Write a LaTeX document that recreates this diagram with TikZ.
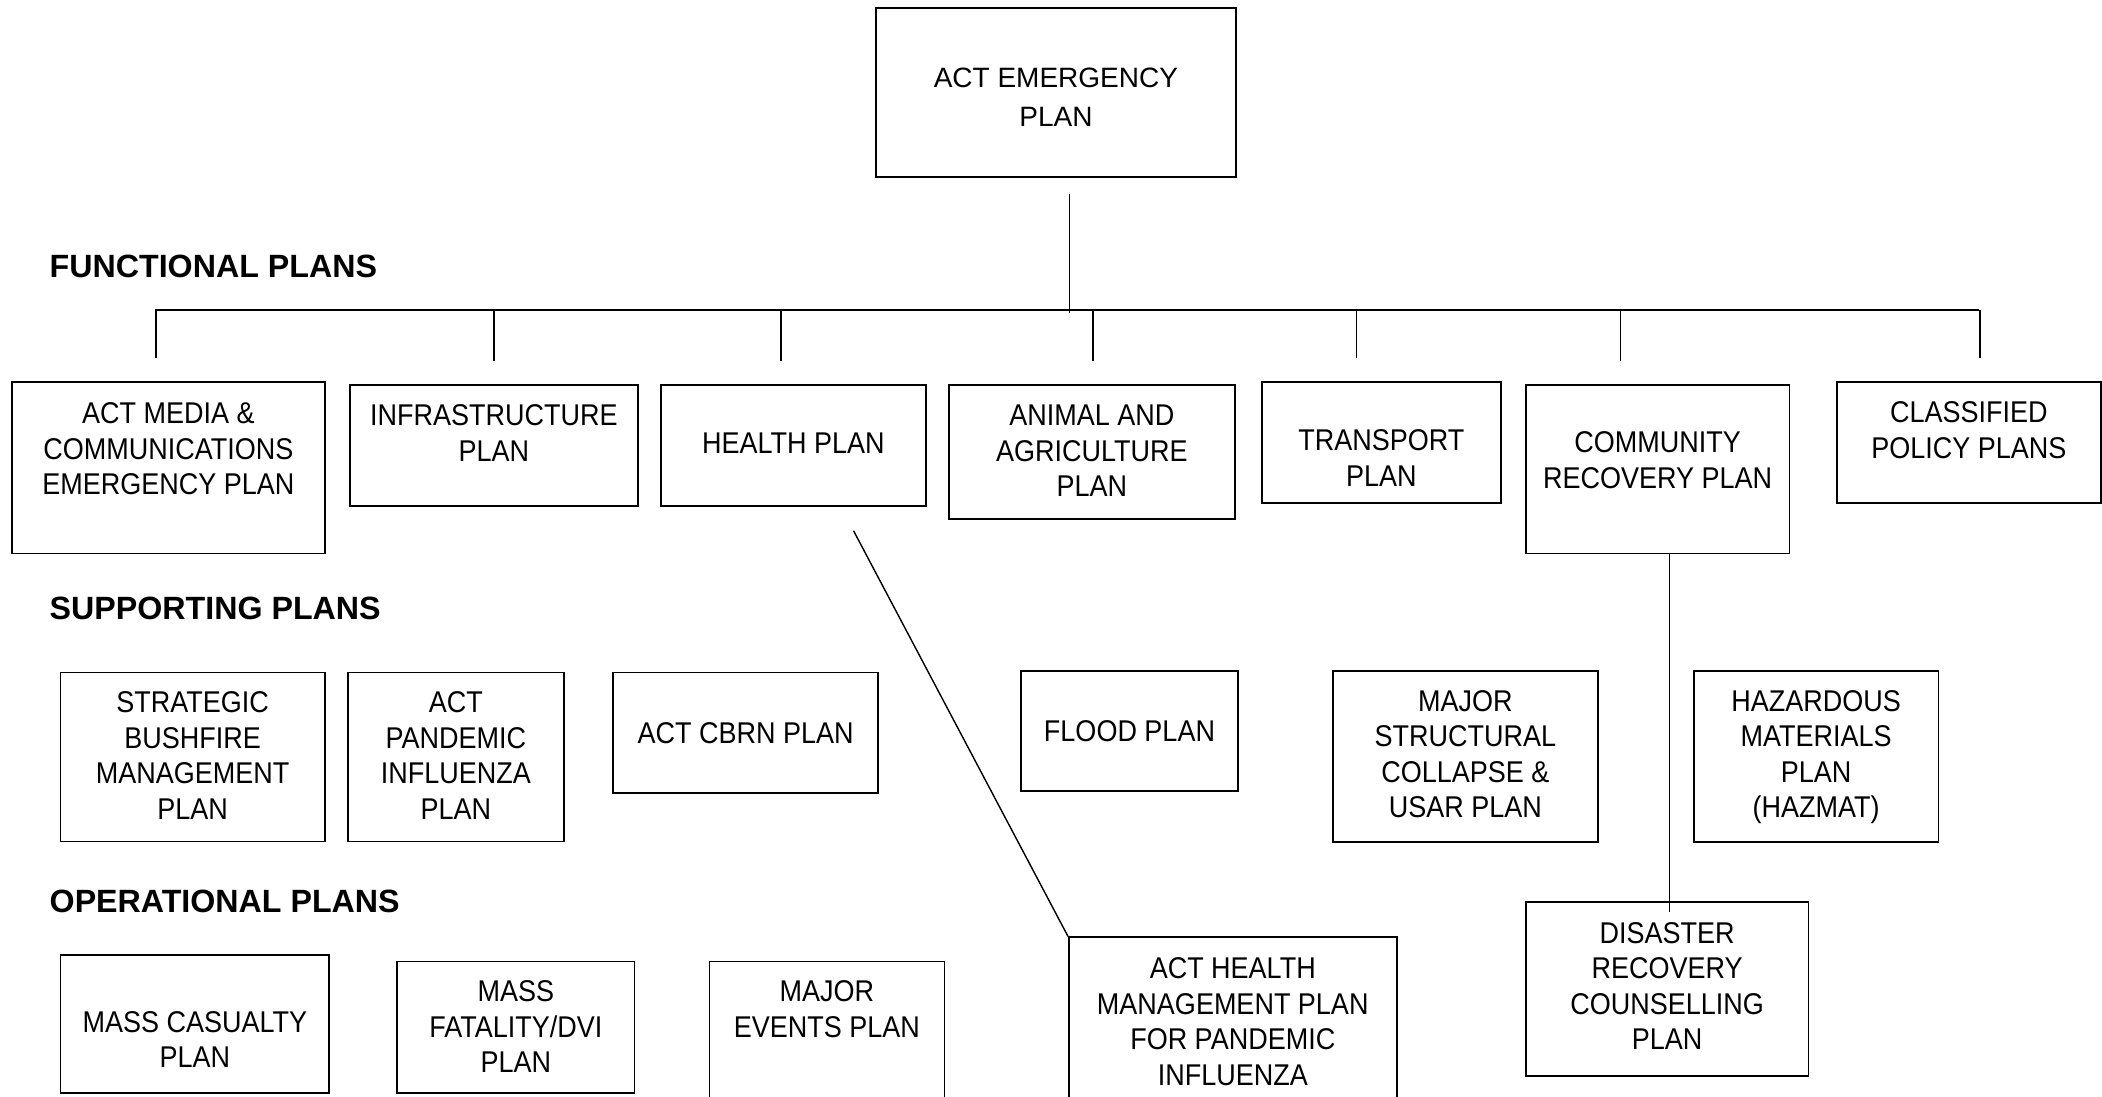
\documentclass[tikz,border=0pt]{standalone}
\usepackage{fontspec}
\setmainfont{Liberation Sans}
\newfontfamily\boxfont[FakeStretch=0.9]{Liberation Sans}
\usetikzlibrary{calc}

\begin{document}
\begin{tikzpicture}[
  x=1pt, y=-1pt,
  box/.style n args={3}{draw, line width=1.8pt, align=center, anchor=north west,
              inner sep=0pt, minimum width=#1pt, text height=#2pt, text depth=#3pt,
              font=\boxfont\fontsize{30}{35.5}\selectfont},
  heading/.style={anchor=base west, inner sep=0pt,
              font=\bfseries\fontsize{32.2}{36}\selectfont},
  link/.style={line width=1.4pt},
  bus/.style={line width=2.2pt},
]
\useasboundingbox (0,0) rectangle (2102,1096);
\clip (0,0) rectangle (2102,1096);

% ---------- top ----------
\node[box={360}{118.7}{50.3}, font=\fontsize{28}{39}\selectfont] (main) at (875,7) {ACT EMERGENCY\\PLAN};

% ---------- headings ----------
\node[heading] (functional)  at (49.5,277.3) {FUNCTIONAL PLANS};
\node[heading] (supporting)  at (49.5,619.8) {SUPPORTING PLANS};
\node[heading] (operational) at (49.5,912.3) {OPERATIONAL PLANS};

% ---------- functional plans ----------
\node[box={313}{113}{58.5}]     (media)      at (11,381)   {ACT MEDIA \&\\COMMUNICATIONS\\EMERGENCY PLAN};
\node[box={288}{76.2}{44.8}]    (infra)      at (349,384)  {INFRASTRUCTURE\\PLAN};
\node[box={265}{68.3}{52.7}]    (health)     at (660,384)  {HEALTH PLAN};
\node[box={286}{111.7}{22.3}]   (animal)     at (948,384)  {ANIMAL AND\\AGRICULTURE\\PLAN};
\node[box={239}{104.2}{16.8}]   (transport)  at (1261,381) {TRANSPORT\\PLAN};
\node[box={263.5}{103.2}{65.3}] (community)  at (1525,384) {COMMUNITY\\RECOVERY PLAN};
\node[box={264}{76.2}{44.8}]    (classified) at (1836,381) {CLASSIFIED\\POLICY PLANS};

% ---------- supporting plans ----------
\node[box={264.4}{146.9}{22.1}] (bushfire) at (59.6,671.6)  {STRATEGIC\\BUSHFIRE\\MANAGEMENT\\PLAN};
\node[box={216}{146.9}{22.1}]   (pandemic) at (347,671.6)   {ACT\\PANDEMIC\\INFLUENZA\\PLAN};
\node[box={264.6}{70.6}{49.6}]  (cbrn)     at (612.4,671.6) {ACT CBRN PLAN};
\node[box={216.4}{70.4}{50}]    (flood)    at (1020.4,670)  {FLOOD PLAN};
\node[box={264.3}{146.8}{23.9}] (usar)     at (1332.4,670)  {MAJOR\\STRUCTURAL\\COLLAPSE \&\\USAR PLAN};
\node[box={244.5}{146.8}{23.9}] (hazmat)   at (1693,670)    {HAZARDOUS\\MATERIALS\\PLAN\\(HAZMAT)};

% ---------- operational plans ----------
\node[box={268.7}{112.9}{25.3}] (casualty)    at (59.6,953.8)  {MASS CASUALTY\\PLAN};
\node[box={237.1}{111.5}{20}]   (fatality)    at (396.4,960.5) {MASS\\FATALITY/DVI\\PLAN};
\node[box={235}{76}{73.5}]      (events)      at (708.5,960.5) {MAJOR\\EVENTS PLAN};
\node[box={327.7}{148.1}{25.5}] (hmgmt)       at (1068,936.4)  {ACT HEALTH\\MANAGEMENT PLAN\\FOR PANDEMIC\\INFLUENZA};
\node[box={282.5}{148}{25.7}]   (counselling) at (1525,901)    {DISASTER\\RECOVERY\\COUNSELLING\\PLAN};

% ---------- connectors ----------
\coordinate (busL) at (155,310);
\coordinate (busR) at (1979,310);
\draw[bus] (busL) -- (busR);

\coordinate (trunk) at ($(main.south)+(13.5,0)$);
\draw[link, shorten <=16pt, shorten >=-3pt] (trunk) -- (trunk |- busL);

\foreach \n/\dx in {media/-12.5, infra/0, health/-12.5, animal/1,
                    transport/-25, community/-37, classified/11} {
  \coordinate (top) at ($(\n.north)+(\dx,0)$);
  \draw[link, shorten >=23pt] (top |- busL) -- (top);
}

\draw[link, shorten <=27pt] ($(health.south west)!0.678!(health.south east)$) -- (hmgmt.north west);

\coordinate (recov) at ($(community.south)+(11.6,0)$);
\draw[link, shorten >=-11pt] (recov) -- (recov |- counselling.north);

\end{tikzpicture}
\end{document}
